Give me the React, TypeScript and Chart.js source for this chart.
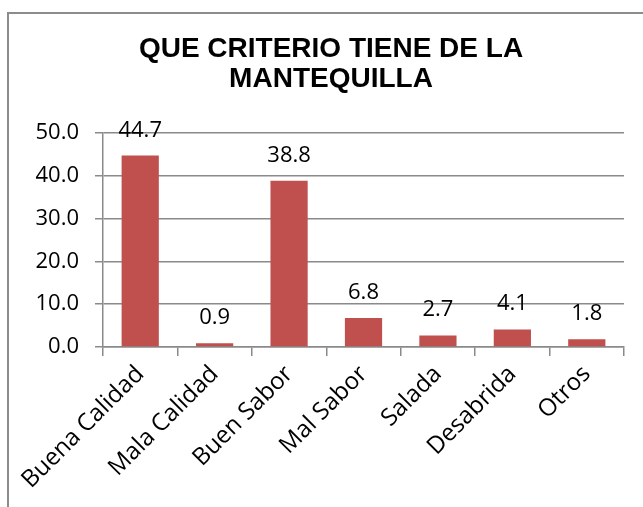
import React, { useEffect, useRef } from "react";
import { Chart, registerables } from "chart.js";

Chart.register(...registerables);

const categories = ["Buena Calidad", "Mala Calidad", "Buen Sabor", "Mal Sabor", "Salada", "Desabrida", "Otros"];
const values = [44.7, 0.9, 38.8, 6.8, 2.7, 4.1, 1.8];
const titleLines = ["QUE CRITERIO TIENE DE LA", "MANTEQUILLA"];
const yMax = 50;
const yStep = 10;

const BAR = "#C0504D";
const GRID = "#8a8a8a";
const FONT = "'Open Sans', 'Noto Sans', sans-serif";

const framePlugin = {
  id: "frame",
  beforeDraw(chart: any) {
    const ctx = chart.ctx;
    ctx.save();
    ctx.fillStyle = "#ffffff";
    ctx.fillRect(0, 0, chart.width, chart.height);
    ctx.strokeStyle = "#8c8c8c";
    ctx.lineWidth = 2;
    ctx.strokeRect(8, 13, chart.width + 50, chart.height + 50);
    ctx.restore();
  },
};

const labelPlugin = {
  id: "barLabels",
  afterDatasetsDraw(chart: any) {
    const ctx = chart.ctx;
    const meta = chart.getDatasetMeta(0);
    ctx.save();
    ctx.fillStyle = "#000000";
    ctx.font = `22px ${FONT}`;
    ctx.textAlign = "center";
    ctx.textBaseline = "alphabetic";
    meta.data.forEach((bar: any, i: number) => {
      const v = chart.data.datasets[0].data[i] as number;
      ctx.fillText(v.toFixed(1), bar.x, bar.y - 19);
    });
    ctx.restore();
  },
};

export default function App() {
  const ref = useRef<HTMLCanvasElement | null>(null);
  useEffect(() => {
    if (!ref.current) return;
    const chart = new Chart(ref.current, {
      type: "bar",
      data: {
        labels: categories,
        datasets: [
          {
            data: values,
            backgroundColor: BAR,
            borderWidth: 0,
            barPercentage: 0.5,
            categoryPercentage: 1,
          },
        ],
      },
      options: {
        animation: false,
        responsive: true,
        maintainAspectRatio: false,
        layout: { padding: { left: 28, right: 9, top: 0, bottom: 0 } },
        plugins: {
          legend: { display: false },
          tooltip: { enabled: false },
          title: {
            display: true,
            text: titleLines,
            color: "#000000",
            font: { family: "'Liberation Sans', Arial, sans-serif", size: 28, weight: "bold", lineHeight: 1.07 },
            padding: { top: 34, bottom: 39 },
          },
        },
        scales: {
          x: {
            offset: true,
            grid: { display: true, drawOnChartArea: false, drawTicks: true, tickLength: 9, offset: true, color: GRID, lineWidth: 1.5 },
            border: { display: true, color: GRID, width: 1.5 },
            ticks: {
              color: "#000000",
              font: { family: FONT, size: 24 },
              minRotation: 45,
              maxRotation: 45,
              autoSkip: false,
              padding: 4,
            },
            afterFit(scale: any) {
              scale.height = 160;
            },
          },
          y: {
            min: 0,
            max: yMax,
            grid: { color: GRID, lineWidth: 1.5, tickLength: 8, drawTicks: true },
            border: { display: true, color: GRID, width: 1.5 },
            ticks: {
              stepSize: yStep,
              color: "#000000",
              font: { family: FONT, size: 22 },
              padding: 16,
              callback: (v: any) => Number(v).toFixed(1),
            },
            afterFit(scale: any) {
              scale.width = 75;
            },
          },
          yPad: {
            position: "right",
            display: true,
            min: 0,
            max: yMax,
            grid: { display: false },
            border: { display: false },
            ticks: { display: false },
            afterFit(scale: any) {
              scale.width = 10;
            },
          },
        },
      },
      plugins: [framePlugin, labelPlugin],
    });
    return () => chart.destroy();
  }, []);
  return (
    <div style={{ position: "fixed", left: 0, top: 0, width: 643, height: 507 }}>
      <canvas ref={ref} />
    </div>
  );
}
